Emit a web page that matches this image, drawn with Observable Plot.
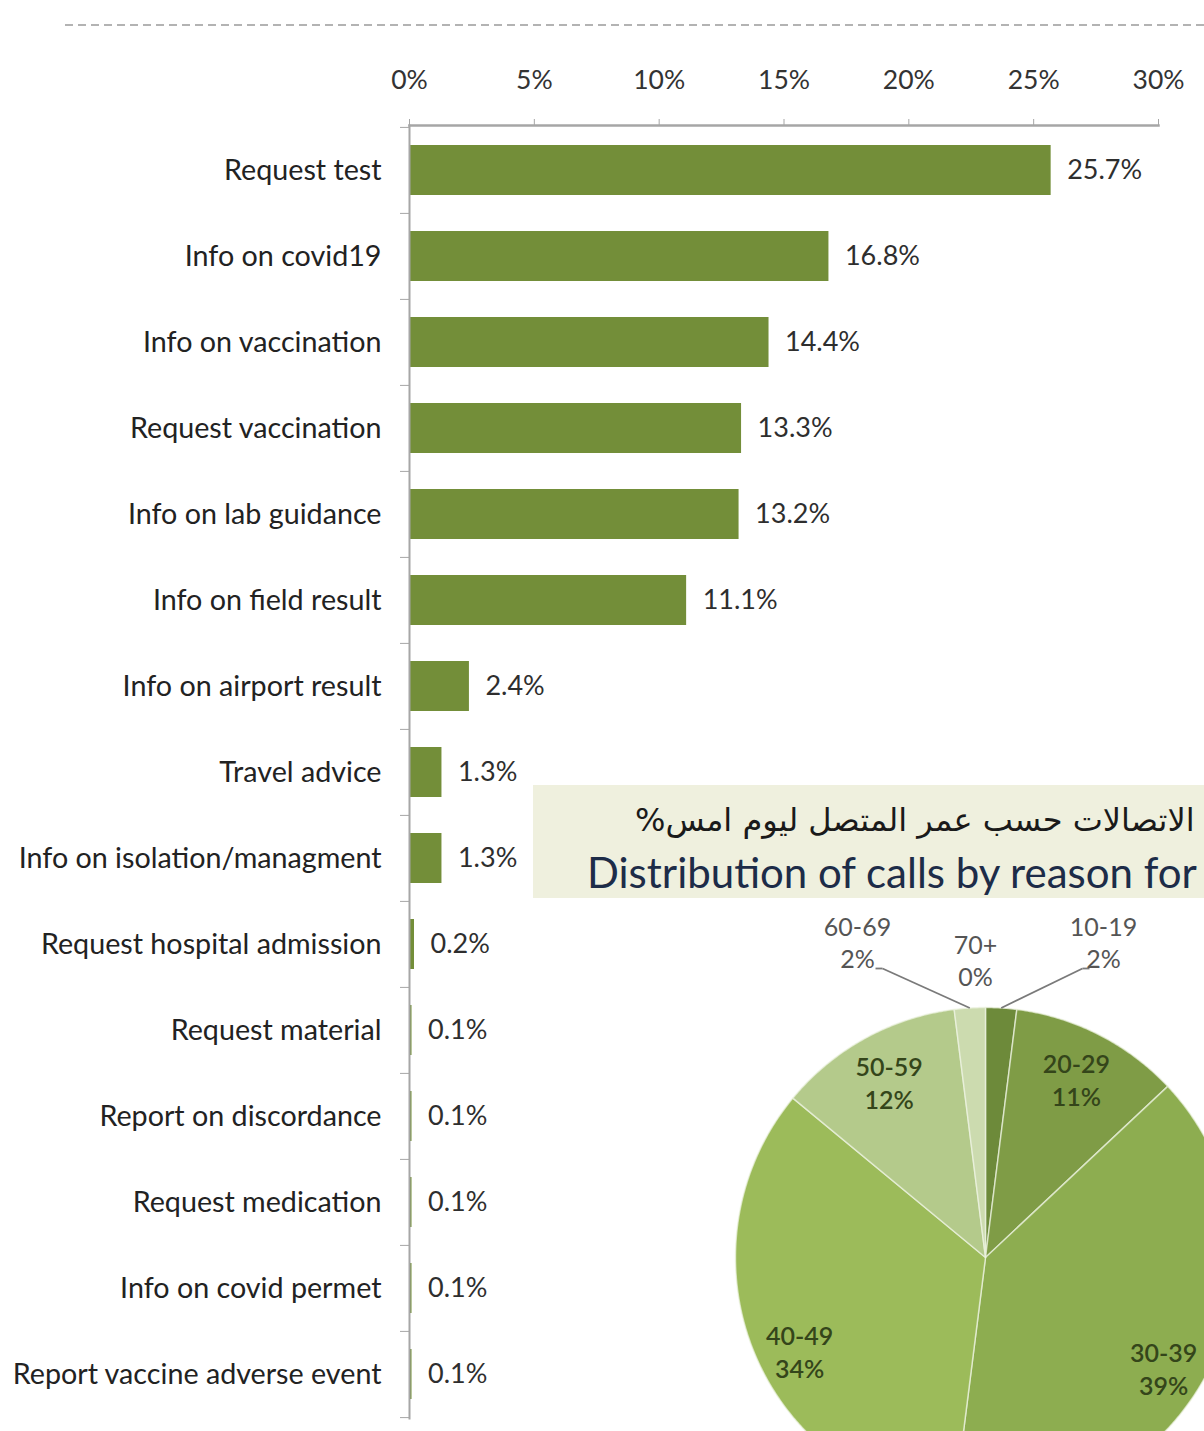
<!DOCTYPE html>
<html>
<head>
<meta charset="utf-8">
<script src="https://cdn.jsdelivr.net/npm/d3@7"></script>
<script src="https://cdn.jsdelivr.net/npm/@observablehq/plot@0.6"></script>
<style>
  html, body { margin: 0; padding: 0; background: #ffffff; }
  #wrap { position: relative; width: 1204px; height: 1431px; overflow: hidden; background: #fff; font-family: Lato, "Open Sans", sans-serif; }
  #sep { position: absolute; left: 0; top: 0; }
  #bars { position: absolute; left: 0; top: 0; width: 1204px; }
  #piebox { position: absolute; left: 533px; top: 785px; width: 720px; height: 113px; background: #eff0de; }
  #titleAr { position: absolute; left: 635px; top: 804px; font-family: "DejaVu Sans", sans-serif; font-size: 32px; color: #1a1a1a; white-space: nowrap; direction: rtl; line-height: 1; }
  #titleEn { position: absolute; left: 587px; top: 851px; font-family: Lato, sans-serif; font-size: 42px; color: #1d2c48; white-space: nowrap; line-height: 1; }
  #pie { position: absolute; left: 533px; top: 900px; width: 700px; }
  svg { max-width: none !important; }
</style>
</head>
<body>
<div id="wrap">
  <svg id="sep" width="1204" height="40"><line x1="65" x2="1204" y1="25" y2="25" stroke="#b3b3b3" stroke-width="2" stroke-dasharray="8 5"/></svg>
  <div id="bars"></div>
  <div id="piebox"></div>
  <div id="titleAr"></div>
  <div id="titleEn"></div>
  <div id="pie"></div>
</div>
<script>
// ---------------- DATA ----------------
const reasons = [
  "Request test",
  "Info on covid19",
  "Info on vaccination",
  "Request vaccination",
  "Info on lab guidance",
  "Info on field result",
  "Info on airport result",
  "Travel advice",
  "Info on isolation/managment",
  "Request hospital admission",
  "Request material",
  "Report on discordance",
  "Request medication",
  "Info on covid permet",
  "Report vaccine adverse event"
];
const reasonShare = [25.7, 16.8, 14.4, 13.3, 13.2, 11.1, 2.4, 1.3, 1.3, 0.2, 0.1, 0.1, 0.1, 0.1, 0.1];
const xTickValues = [0, 5, 10, 15, 20, 25, 30];

const ageGroups = ["10-19", "20-29", "30-39", "40-49", "50-59", "60-69", "70+"];
const ageShare = [2, 11, 39, 34, 12, 2, 0];
const ageColors = ["#6d8a3a", "#7f9c46", "#8dad50", "#9cbb5a", "#b4ca8b", "#ccdbaf", "#dfe9cb"];

const titleAr = "الاتصالات حسب عمر المتصل ليوم امس%";
const titleEn = "Distribution of calls by reason for";

// ---------------- BAR CHART ----------------
const W = 1204, H = 1431;
const mTop = 125, mBottom = 13, mLeft = 409, mRight = 46;
const barData = reasons.map((c, i) => ({c, v: reasonShare[i]}));
const step = (H - mTop - mBottom) / reasons.length;
const axisGray = "#a6a6a6";

const bars = Plot.plot({
  width: W, height: H,
  marginTop: mTop, marginBottom: mBottom, marginLeft: mLeft, marginRight: mRight,
  style: {background: "transparent", fontFamily: "Lato, sans-serif", overflow: "visible"},
  x: {domain: [0, 30], axis: null},
  y: {domain: reasons, paddingInner: 0.42, paddingOuter: 0.21, axis: null},
  marks: [
    Plot.barX(barData, {x: "v", y: "c", fill: "#738e39"}),
    Plot.text(barData, {x: "v", y: "c", text: d => d.v.toFixed(1) + "%", textAnchor: "start", dx: 16, fontSize: 27, fill: "#2e2e2e"}),
    Plot.frame({anchor: "top", stroke: axisGray, strokeWidth: 2.5}),
    Plot.frame({anchor: "left", stroke: axisGray, strokeWidth: 2}),
    Plot.axisX({anchor: "top", label: null, ticks: xTickValues, tickFormat: d => d + "%", tickSize: 7, tickPadding: 30, fontSize: 26.5, stroke: axisGray, color: "#333333"}),
    Plot.axisY({label: null, tickSize: 9, tickFormat: () => "", dy: -step / 2, stroke: axisGray}),
    Plot.axisY({label: null, ticks: [reasons[reasons.length - 1]], tickSize: 9, tickFormat: () => "", dy: step / 2, stroke: axisGray}),
    Plot.axisY({label: null, tickSize: 0, tickPadding: 28, fontSize: 28.7, color: "#222222"})
  ]
});
document.getElementById("bars").appendChild(bars);

// ---------------- PIE TITLE ----------------
document.getElementById("titleAr").textContent = titleAr;
document.getElementById("titleEn").textContent = titleEn;

// ---------------- PIE ----------------
const R = 250;
const pieW = 700, pieH = 560;
const cx = 985 - 533, cy = 1257 - 900; // centre inside the pie svg (px)
const ages = ageGroups.map((k, i) => ({k, v: ageShare[i]}));
const arcs = d3.pie().sort(null).value(d => d.v)(ages);

const slicePts = [];
arcs.forEach(a => {
  const span = a.endAngle - a.startAngle;
  if (span <= 0) return;
  const n = Math.max(2, Math.ceil(span / (Math.PI / 360)));
  slicePts.push({k: a.data.k, x: 0, y: 0});
  for (let i = 0; i <= n; i++) {
    const t = a.startAngle + span * i / n;
    slicePts.push({k: a.data.k, x: R * Math.sin(t), y: R * Math.cos(t)});
  }
  slicePts.push({k: a.data.k, x: 0, y: 0});
});

// label layout (style): inside labels on mid-angle radius (large slices sit a bit lower,
// as in the "best fit" placement); small slices get callouts above the pie
const insideR = 0.8 * R;
const callout = {"10-19": [118, 316], "60-69": [-128, 316], "70+": [-10, 298]};
const insideLabels = [], outsideLabels = [], leaders = [];
arcs.forEach(a => {
  const mid = (a.startAngle + a.endAngle) / 2;
  const text = a.data.k + "\n" + a.data.v + "%";
  if (callout[a.data.k]) {
    const [lx, ly] = callout[a.data.k];
    outsideLabels.push({x: lx, y: ly, text});
    if (a.data.v > 0) {
      const sx = lx + (lx < 0 ? 25 : -21);
      leaders.push({x1: sx - (lx < 0 ? 7 : -7), y1: ly - 27, x2: sx, y2: ly - 27});
      leaders.push({x1: sx, y1: ly - 27, x2: R * Math.sin(mid), y2: R * Math.cos(mid)});
    }
  } else {
    const lower = Math.cos(mid) < 0 ? 20 : 0;
    insideLabels.push({x: insideR * Math.sin(mid), y: insideR * Math.cos(mid) - lower, text});
  }
});

const pie = Plot.plot({
  width: pieW, height: pieH,
  marginTop: 0, marginBottom: 0, marginLeft: 0, marginRight: 0,
  style: {background: "transparent", fontFamily: "Lato, sans-serif", overflow: "visible", maxWidth: "none"},
  x: {domain: [-cx, pieW - cx], axis: null},
  y: {domain: [-(pieH - cy), cy], axis: null},
  color: {domain: ageGroups, range: ageColors},
  marks: [
    Plot.line(slicePts, {x: "x", y: "y", z: "k", fill: "k", stroke: "#eef3e2", strokeWidth: 1.5, strokeOpacity: 0.7, curve: "linear"}),
    Plot.link(leaders, {x1: "x1", y1: "y1", x2: "x2", y2: "y2", stroke: "#7a7a7a", strokeWidth: 1.8}),
    Plot.text(insideLabels, {x: "x", y: "y", text: "text", fontSize: 25, fontWeight: 600, lineHeight: 1.3, fill: "#34451a"}),
    Plot.text(outsideLabels, {x: "x", y: "y", text: "text", fontSize: 25, lineHeight: 1.3, fill: "#555555"})
  ]
});
document.getElementById("pie").appendChild(pie);
</script>
</body>
</html>
